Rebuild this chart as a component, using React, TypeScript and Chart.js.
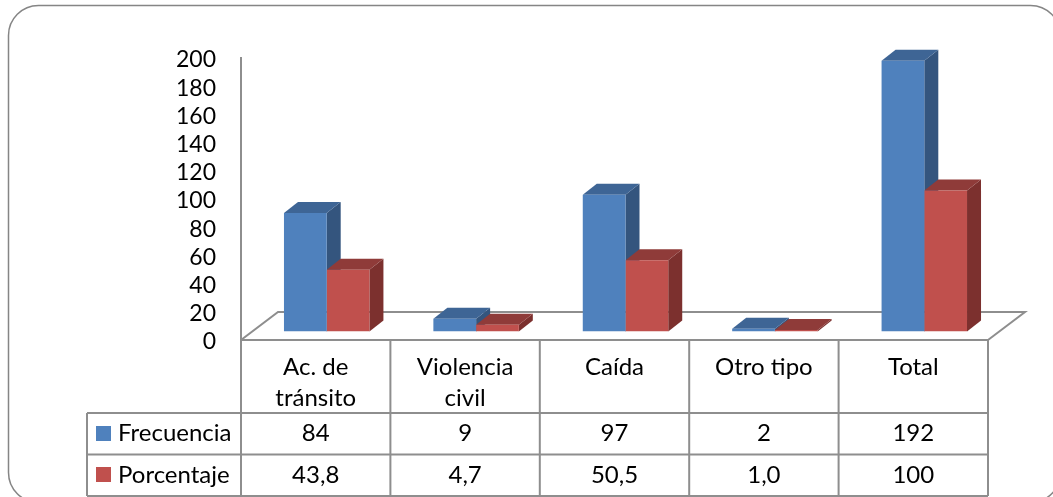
import React, { useEffect, useRef } from "react";
import { Chart, registerables } from "chart.js";

Chart.register(...registerables);

const categories: (string | string[])[] = [["Ac. de", "tránsito"], ["Violencia", "civil"], "Caída", "Otro tipo", "Total"];
const frecuencia = [84, 9, 97, 2, 192];
const porcentaje = [43.8, 4.7, 50.5, 1.0, 100];
const frecuenciaLabels = ["84", "9", "97", "2", "192"];
const porcentajeLabels = ["43,8", "4,7", "50,5", "1,0", "100"];
const seriesNames = ["Frecuencia", "Porcentaje"];
const yTicks = { min: 0, max: 200, step: 20 };

const FONT = "Lato";
const LINE = "#8e8e8e";
const palette = [
  { front: "#4f81bd", side: "#34557e", top: "#3e6595" },
  { front: "#c0504d", side: "#7c302e", top: "#8f3b39" },
];

const scene = {
  id: "scene",
  beforeDraw(chart: any) {
    const c = chart.ctx;
    c.save();
    c.fillStyle = "#fff";
    c.fillRect(0, 0, chart.width, chart.height);
    c.strokeStyle = "#858585";
    c.lineWidth = 1.5;
    c.beginPath();
    c.roundRect(8.5, 5.5, 1052, 497, 30);
    c.stroke();
    c.restore();
  },
  beforeDatasetsDraw(chart: any) {
    const c = chart.ctx;
    const { x, y } = chart.scales;
    const dx = 37;
    const dy = 28;
    const depthX = 14;
    const depthY = 11;
    const halfCat = (x.getPixelForValue(1) - x.getPixelForValue(0)) / 2;
    const left = x.getPixelForValue(0) - halfCat - 11;
    const right = x.getPixelForValue(categories.length - 1) + halfCat - 11;
    const floor = y.getPixelForValue(0) + 8.5;
    c.save();
    c.strokeStyle = LINE;
    c.lineWidth = 2;
    c.beginPath();
    c.moveTo(left, y.getPixelForValue(yTicks.max) + 7.5);
    c.lineTo(left, floor);
    c.lineTo(left + dx, floor - dy);
    c.lineTo(right + dx, floor - dy);
    c.lineTo(right, floor);
    c.stroke();
    chart.data.datasets.forEach((_: any, di: number) => {
      const meta = chart.getDatasetMeta(di);
      const col = palette[di];
      meta.data.forEach((b: any) => {
        const l = b.x - b.width / 2;
        const r = b.x + b.width / 2;
        c.fillStyle = col.side;
        c.beginPath();
        c.moveTo(r, b.y);
        c.lineTo(r + depthX, b.y - depthY);
        c.lineTo(r + depthX, b.base - depthY);
        c.lineTo(r, b.base);
        c.closePath();
        c.fill();
        c.fillStyle = col.top;
        c.beginPath();
        c.moveTo(l, b.y);
        c.lineTo(l + depthX, b.y - depthY);
        c.lineTo(r + depthX, b.y - depthY);
        c.lineTo(r, b.y);
        c.closePath();
        c.fill();
      });
    });
    c.restore();
  },
  afterDraw(chart: any) {
    const c = chart.ctx;
    const { x, y } = chart.scales;
    const cw = x.getPixelForValue(1) - x.getPixelForValue(0);
    const left = x.getPixelForValue(0) - cw / 2 - 11;
    const n = categories.length;
    const right = left + n * cw;
    const top = y.getPixelForValue(0) + 8.5;
    const rows = [413, 454.5, 496];
    const tableLeft = 87;
    c.save();
    c.strokeStyle = LINE;
    c.lineWidth = 2;
    c.beginPath();
    c.moveTo(left, top);
    c.lineTo(right, top);
    for (let i = 0; i <= n; i++) {
      c.moveTo(left + i * cw, top);
      c.lineTo(left + i * cw, rows[2]);
    }
    rows.forEach((r) => {
      c.moveTo(tableLeft, r);
      c.lineTo(right, r);
    });
    c.moveTo(tableLeft, rows[0]);
    c.lineTo(tableLeft, rows[2]);
    c.stroke();
    c.font = `24px ${FONT}`;
    c.fillStyle = "#000";
    c.textBaseline = "middle";
    [frecuenciaLabels, porcentajeLabels].forEach((vals, ri) => {
      const mid = (rows[ri] + rows[ri + 1]) / 2 - 1;
      c.fillStyle = palette[ri].front;
      c.fillRect(96, Math.round(mid) - 7, 15, 15);
      c.fillStyle = "#000";
      c.textAlign = "left";
      c.fillText(seriesNames[ri], 118, mid + 1);
      c.textAlign = "center";
      vals.forEach((v, i) => c.fillText(v, left + (i + 0.5) * cw, mid + 1));
    });
    c.restore();
  },
};

export default function App() {
  const ref = useRef<HTMLCanvasElement>(null);
  useEffect(() => {
    const chart = new Chart(ref.current as HTMLCanvasElement, {
      type: "bar",
      data: {
        labels: categories,
        datasets: [
          { label: seriesNames[0], data: frecuencia, backgroundColor: palette[0].front },
          { label: seriesNames[1], data: porcentaje, backgroundColor: palette[1].front },
        ],
      },
      options: {
        responsive: false,
        animation: false,
        layout: { padding: { left: 0, top: 49.5, right: 54, bottom: 0 } },
        plugins: { legend: { display: false }, title: { display: false }, tooltip: { enabled: false } },
        datasets: { bar: { categoryPercentage: 0.572, barPercentage: 1 } },
        scales: {
          x: {
            grid: { display: false },
            border: { display: false },
            afterFit: (s: any) => { s.height = 165.5; },
            ticks: {
              color: "#000",
              font: { family: FONT, size: 24, lineHeight: 31 / 24 },
              padding: 12,
              labelOffset: -11,
              maxRotation: 0,
              minRotation: 0,
              autoSkip: false,
            },
          },
          y: {
            min: yTicks.min,
            max: yTicks.max,
            grid: { display: false },
            border: { display: false },
            afterFit: (s: any) => { s.width = 252; },
            ticks: {
              stepSize: yTicks.step,
              autoSkip: false,
              color: "#000",
              font: { family: FONT, size: 23 },
              padding: 28,
              labelOffset: 10.5,
            },
          },
        },
      },
      plugins: [scene],
    } as any);
    return () => chart.destroy();
  }, []);
  return (
    <div style={{ position: "fixed", left: 0, top: 0 }}>
      <canvas ref={ref} width={1053} height={497} style={{ display: "block" }} />
    </div>
  );
}
